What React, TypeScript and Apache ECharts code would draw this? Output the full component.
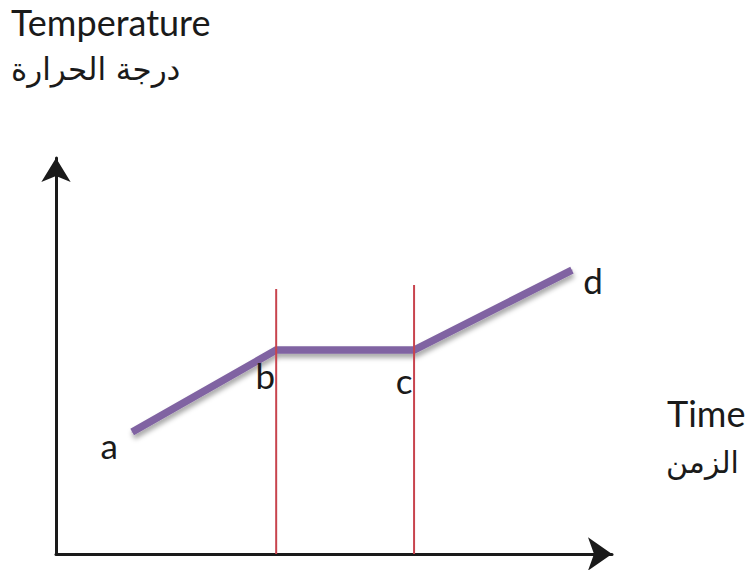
import React, { useEffect, useRef } from "react";
import * as echarts from "echarts";

// Heating curve: temperature against time, with a plateau between b and c
const pointNames = ["a", "b", "c", "d"];
const timeValues = [13.7, 39.6, 64.4, 92.8];
const tempValues = [30.8, 51.5, 51.5, 71.7];

// Vertical markers at the start and end of the plateau
const markerTimes = [39.6, 64.4];
const markerTops = [66.9, 67.9];

const yTitleEn = "Temperature";
const yTitleAr = "درجة الحرارة";
const xTitleEn = "Time";
const xTitleAr = "الزمن";

const labelOffsets: [number, number][] = [
  [-23, 13],
  [-11, 25],
  [-10, 30],
  [21, 10],
];

const LATIN = "Lato, 'Open Sans', sans-serif";
const ARABIC = "'DejaVu Sans', sans-serif";
const INK = "#1a1a1a";

export default function App() {
  const ref = useRef<HTMLDivElement>(null);

  useEffect(() => {
    if (!ref.current) return;
    const chart = echarts.init(ref.current, null, { renderer: "svg" });

    const curve = pointNames.map((name, i) => ({
      value: [timeValues[i], tempValues[i]],
      label: {
        show: true,
        formatter: name,
        position: "inside",
        offset: labelOffsets[i],
        fontFamily: LATIN,
        fontSize: 35,
        color: INK,
      },
    }));

    const markers = markerTimes.map((t, i) => ({
      type: "line",
      data: [
        [t, 0],
        [t, markerTops[i]],
      ],
      symbol: "none",
      z: 5,
      lineStyle: { color: "#C8444E", width: 2 },
    }));

    chart.setOption({
      animation: false,
      backgroundColor: "#ffffff",
      grid: { left: 56, right: 133, top: 158, bottom: 16 },
      xAxis: {
        type: "value",
        min: 0,
        max: 100,
        axisLine: {
          show: true,
          symbol: ["none", "arrow"],
          symbolSize: [25, 24],
          lineStyle: { color: INK, width: 3 },
        },
        axisTick: { show: false },
        axisLabel: { show: false },
        splitLine: { show: false },
      },
      yAxis: {
        type: "value",
        min: 0,
        max: 100,
        axisLine: {
          show: true,
          symbol: ["none", "arrow"],
          symbolSize: [22, 24],
          lineStyle: { color: INK, width: 3 },
        },
        axisTick: { show: false },
        axisLabel: { show: false },
        splitLine: { show: false },
      },
      graphic: [
        {
          type: "text",
          left: 11,
          top: 4,
          style: { text: yTitleEn, font: `36px ${LATIN}`, fill: INK },
        },
        {
          type: "text",
          left: 11,
          top: 53,
          style: { text: yTitleAr, font: `31px ${ARABIC}`, fill: INK },
        },
        {
          type: "text",
          left: 667,
          top: 395,
          style: { text: xTitleEn, font: `36px ${LATIN}`, fill: INK },
        },
        {
          type: "text",
          left: 666,
          top: 447,
          style: { text: xTitleAr, font: `30px ${ARABIC}`, fill: INK },
        },
      ],
      series: [
        {
          type: "line",
          data: curve,
          symbol: "circle",
          symbolSize: 1,
          z: 3,
          itemStyle: { color: "#8064A2" },
          lineStyle: {
            color: "#8064A2",
            width: 7.5,
            cap: "butt",
            join: "miter",
            shadowColor: "rgba(0,0,0,0.35)",
            shadowBlur: 5,
            shadowOffsetX: 1,
            shadowOffsetY: 4,
          },
        },
        ...markers,
      ],
    });

    return () => chart.dispose();
  }, []);

  return (
    <div
      ref={ref}
      style={{ position: "fixed", left: 0, top: 0, width: 745, height: 570 }}
    />
  );
}
